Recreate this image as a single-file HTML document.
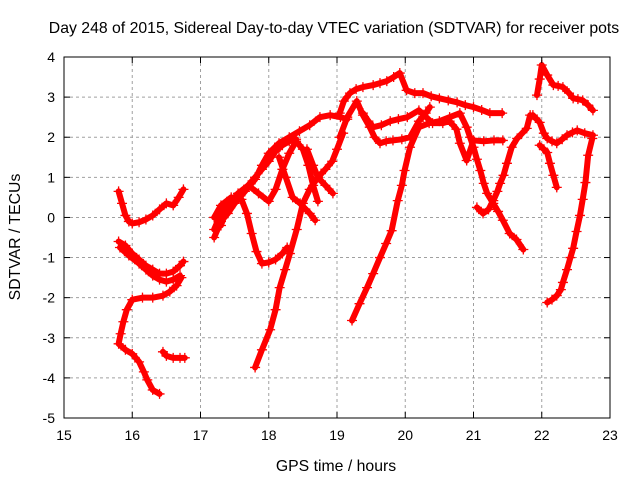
<!DOCTYPE html>
<html><head><meta charset="utf-8"><style>
body{margin:0;background:#fff}
svg{display:block;font-family:"Liberation Sans",sans-serif}
</style></head><body>
<svg id="chart" width="640" height="480" viewBox="0 0 640 480" xmlns="http://www.w3.org/2000/svg">
<rect width="640" height="480" fill="#fff"/>
<text x="334" y="33" font-size="15.8" text-anchor="middle" fill="#000">Day 248 of 2015, Sidereal Day-to-day VTEC variation (SDTVAR) for receiver pots</text>
<text x="336" y="471" font-size="15.8" text-anchor="middle">GPS time / hours</text>
<text x="20" y="237" font-size="15.8" text-anchor="middle" transform="rotate(-90 20 237)">SDTVAR / TECUs</text>
<g id="grid"></g><g id="marks"></g><g id="axes"></g>
</svg>
<script>
const xTicks=[15,16,17,18,19,20,21,22,23];
const yTicks=[-5,-4,-3,-2,-1,0,1,2,3,4];
const trackA=[[15.8,0.65],[15.85,0.35],[15.9,0.05],[15.95,-0.1],[16.0,-0.15],[16.1,-0.12],[16.2,-0.05],[16.3,0.05],[16.4,0.2],[16.5,0.35],[16.6,0.3],[16.68,0.5],[16.75,0.7]];
const trackB=[[15.8,-0.6],[15.9,-0.7],[16.0,-0.9],[16.1,-1.05],[16.2,-1.2],[16.3,-1.3],[16.4,-1.4],[16.5,-1.4],[16.6,-1.35],[16.7,-1.2],[16.75,-1.1]];
const trackC=[[15.82,-0.75],[15.95,-0.95],[16.1,-1.15],[16.2,-1.3],[16.3,-1.45],[16.4,-1.55],[16.5,-1.6],[16.6,-1.55],[16.7,-1.45]];
const trackD=[[16.72,-1.5],[16.65,-1.7],[16.55,-1.85],[16.45,-1.95],[16.3,-2.0],[16.15,-2.0],[16.0,-2.05],[15.92,-2.3],[15.87,-2.6],[15.83,-2.9],[15.8,-3.15],[15.9,-3.3],[16.0,-3.4],[16.1,-3.6],[16.17,-3.85],[16.22,-4.05],[16.3,-4.3],[16.4,-4.4]];
const trackE=[[16.45,-3.35],[16.5,-3.45],[16.6,-3.5],[16.7,-3.5],[16.77,-3.5]];
const trackF=[[17.2,-0.5],[17.3,-0.1],[17.4,0.1],[17.5,0.35],[17.65,0.65],[17.8,0.95],[17.9,1.3],[18.0,1.6],[18.15,1.85],[18.3,2.0],[18.45,2.15],[18.6,2.3],[18.75,2.5],[18.9,2.55],[19.05,2.5],[19.15,2.45]];
const trackF2=[[17.2,-0.3],[17.3,0.1],[17.4,0.3],[17.5,0.5],[17.6,0.6],[17.7,0.8],[17.8,1.0],[17.9,1.2],[18.0,1.4],[18.1,1.65],[18.2,1.8],[18.3,1.9],[18.4,1.95]];
const trackG=[[17.2,0.0],[17.3,0.3],[17.45,0.5],[17.6,0.45],[17.68,0.1],[17.75,-0.4],[17.82,-0.85],[17.9,-1.15],[18.0,-1.12],[18.1,-1.05],[18.2,-0.9],[18.27,-0.75]];
const trackH=[[17.3,-0.2],[17.4,0.3],[17.55,0.6],[17.7,0.8],[17.85,0.6],[18.0,0.4],[18.1,0.7],[18.2,1.2],[18.3,1.6],[18.4,1.9],[18.5,1.7],[18.58,1.3],[18.65,0.8],[18.72,0.4]];
const trackI=[[17.8,-3.74],[17.9,-3.3],[18.02,-2.8],[18.1,-2.3],[18.16,-1.75],[18.24,-1.3],[18.31,-0.9],[18.41,-0.3],[18.5,0.35],[18.6,0.7],[18.72,1.0],[18.83,1.2],[18.93,1.4],[19.0,1.7],[19.09,2.1]];
const trackJ=[[18.15,1.5],[18.25,1.0],[18.35,0.5],[18.46,0.35],[18.6,0.1],[18.68,-0.07]];
const trackK=[[18.56,1.7],[18.65,1.3],[18.72,1.0],[18.83,0.8],[18.94,0.6]];
const trackL=[[19.22,-2.57],[19.33,-2.15],[19.44,-1.75],[19.53,-1.4],[19.63,-1.0],[19.72,-0.65],[19.8,-0.33],[19.89,0.42],[19.95,0.8],[19.99,1.17],[20.07,1.75],[20.2,2.25],[20.35,2.35],[20.5,2.4],[20.65,2.5],[20.8,2.6],[20.9,2.25],[20.95,2.0],[21.0,1.75],[21.05,1.45],[21.1,1.17],[21.15,0.85],[21.2,0.6],[21.29,0.35],[21.36,0.15],[21.43,-0.07],[21.53,-0.4],[21.63,-0.55],[21.73,-0.8]];
const trackM=[[19.04,2.6],[19.1,2.9],[19.19,3.1],[19.28,3.2],[19.38,3.25],[19.53,3.3],[19.63,3.35],[19.73,3.4],[19.83,3.5],[19.92,3.6],[20.02,3.17],[20.14,3.1],[20.26,3.1],[20.38,3.02],[20.5,2.97],[20.63,2.92],[20.76,2.87],[20.88,2.8],[21.0,2.75],[21.12,2.68],[21.24,2.6],[21.42,2.6]];
const trackN=[[19.04,2.0],[19.15,2.5],[19.29,2.9],[19.38,2.55],[19.48,2.25],[19.55,2.0],[19.63,1.85],[19.72,1.9],[19.82,1.92],[19.95,1.95],[20.07,2.0],[20.2,2.4],[20.3,2.6],[20.36,2.75]];
const trackO=[[19.38,2.6],[19.46,2.4],[19.53,2.25],[19.65,2.3],[19.78,2.4],[19.9,2.45],[20.03,2.5],[20.2,2.67],[20.4,2.35],[20.55,2.35],[20.65,2.4],[20.75,2.2],[20.8,1.85],[20.9,1.42],[21.0,1.92],[21.15,1.9],[21.3,1.92],[21.43,1.92]];
const trackP=[[21.05,0.25],[21.14,0.1],[21.22,0.2],[21.29,0.42],[21.35,0.65],[21.39,0.85],[21.44,1.05],[21.49,1.35],[21.56,1.75],[21.64,1.97],[21.78,2.22],[21.83,2.55]];
const trackQ=[[21.93,3.05],[21.97,3.45],[22.0,3.8],[22.08,3.55],[22.17,3.3],[22.24,3.28],[22.31,3.25],[22.4,3.1],[22.46,2.97],[22.53,2.95],[22.6,2.92],[22.68,2.8],[22.75,2.67]];
const trackR=[[21.87,2.55],[21.97,2.37],[22.03,2.1],[22.08,1.97],[22.15,1.9],[22.22,1.85],[22.3,1.95],[22.37,2.05],[22.45,2.12],[22.52,2.17],[22.63,2.1],[22.75,2.05]];
const trackS=[[21.97,1.8],[22.03,1.7],[22.08,1.62],[22.12,1.35],[22.17,1.05],[22.22,0.75]];
const trackT=[[22.08,-2.12],[22.15,-2.05],[22.22,-1.95],[22.28,-1.8],[22.31,-1.62],[22.37,-1.3],[22.42,-1.0],[22.46,-0.77],[22.51,-0.35],[22.56,0.05],[22.6,0.45],[22.64,0.87],[22.68,1.55],[22.74,1.97]];
const tracks=[trackA,trackB,trackC,trackD,trackE,trackF,trackF2,trackG,trackH,trackI,trackJ,trackK,trackL,trackM,trackN,trackO,trackP,trackQ,trackR,trackS,trackT];

const L=64,R=610,T=57,B=418;
const xs=v=>L+(v-15)/8*(R-L);
const ys=v=>B-(v+5)/9*(B-T);
const NS='http://www.w3.org/2000/svg';
function mk(tag,attrs,parent){const e=document.createElementNS(NS,tag);for(const k in attrs)e.setAttribute(k,attrs[k]);parent.appendChild(e);return e;}
const grid=document.getElementById('grid'),axes=document.getElementById('axes'),marks=document.getElementById('marks');
xTicks.forEach(t=>{const x=xs(t);
 if(t>15&&t<23){const g=mk('line',{x1:x,x2:x,y1:T,y2:B,stroke:'#a0a0a0','stroke-dasharray':'3,3'},grid);
 
 }
 mk('line',{x1:x,x2:x,y1:B,y2:B-6,stroke:'#000'},axes);
 mk('line',{x1:x,x2:x,y1:T,y2:T+6,stroke:'#000'},axes);
 const tx=mk('text',{x:x,y:B+22,'font-size':14,'text-anchor':'middle'},axes);tx.textContent=t;
 
 
});
yTicks.forEach(t=>{const y=ys(t);
 if(t>-5&&t<4){const g=mk('line',{x1:L,x2:R,y1:y,y2:y,stroke:'#a0a0a0','stroke-dasharray':'3,3'},grid);
 
 }
 mk('line',{x1:L,x2:L+6,y1:y,y2:y,stroke:'#000'},axes);
 mk('line',{x1:R,x2:R-6,y1:y,y2:y,stroke:'#000'},axes);
 const tx=mk('text',{x:L-9,y:y+5,'font-size':14,'text-anchor':'end'},axes);tx.textContent=t;
 
 
});
const fr=mk('rect',{x:L,y:T,width:R-L,height:B-T,fill:'none',stroke:'#000'},axes);


tracks.forEach((tr,i)=>{
 const pl=mk('polyline',{points:tr.map(p=>xs(p[0])+','+ys(p[1])).join(' '),fill:'none',stroke:'#ff0000','stroke-width':6,'stroke-linejoin':'round','stroke-linecap':'round'},marks);
 
 
 tr.forEach(p=>{const x=xs(p[0]),y=ys(p[1]);
  const m=mk('path',{d:`M${x-5} ${y}H${x+5}M${x} ${y-5}V${y+5}`,stroke:'#ff0000','stroke-width':1.3},marks);
  
  
 });
});
</script>
</body></html>
